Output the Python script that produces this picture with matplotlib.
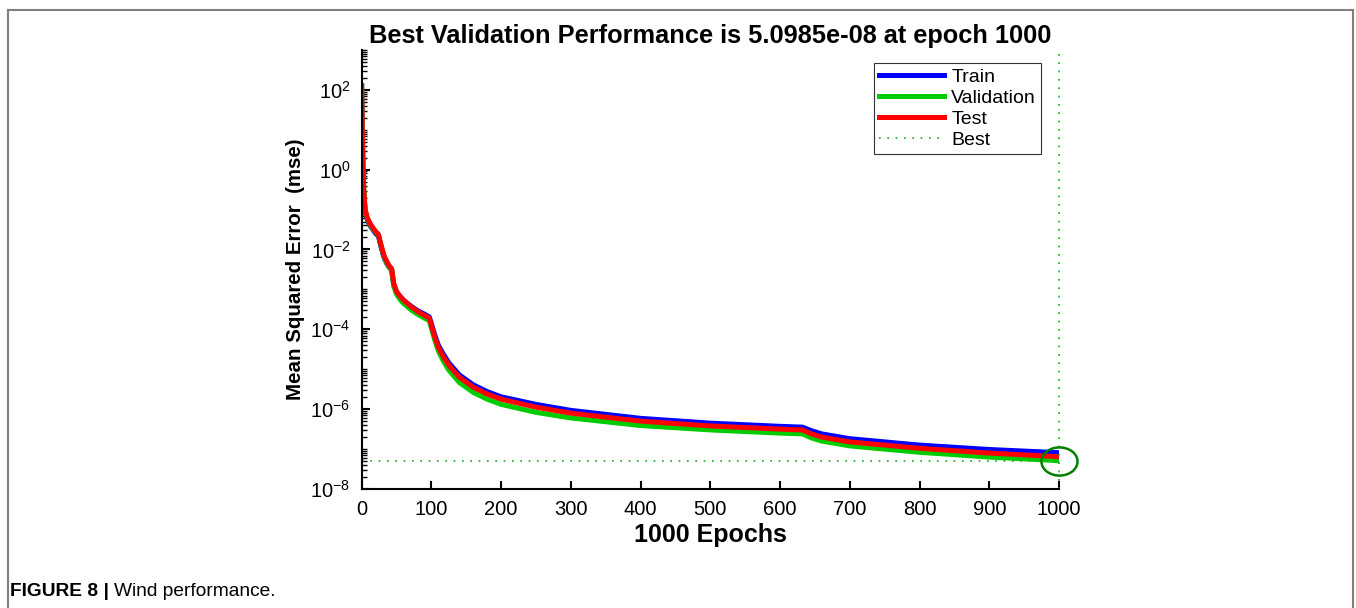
import numpy as np
import matplotlib
matplotlib.use("Agg")
import matplotlib.pyplot as plt
from matplotlib.lines import Line2D
from matplotlib.markers import MarkerStyle
from matplotlib.transforms import Affine2D
from matplotlib.ticker import LogLocator, NullFormatter, FixedLocator

plt.rcParams['font.family'] = ['Liberation Sans', 'DejaVu Sans']
plt.rcParams['mathtext.fontset'] = 'custom'
plt.rcParams['mathtext.rm'] = 'Liberation Sans'

epochs = [0, 1, 2, 3, 5, 8, 12, 16, 20, 24, 28, 32, 36, 40, 43, 46, 50, 55, 60, 70,
          80, 90, 97, 100, 105, 110, 117, 125, 140, 160, 180, 200, 250, 300, 400,
          500, 600, 632, 645, 660, 700, 800, 900, 1000]
test_log = [2.1, 1.0, 0.0, -0.5, -1.0, -1.2, -1.35, -1.45, -1.55, -1.62, -1.9, -2.15,
            -2.3, -2.42, -2.48, -2.85, -3.05, -3.17, -3.27, -3.42, -3.55, -3.65, -3.72,
            -3.9, -4.2, -4.45, -4.68, -4.9, -5.2, -5.45, -5.62, -5.75, -5.95, -6.1,
            -6.3, -6.42, -6.5, -6.52, -6.62, -6.7, -6.82, -6.98, -7.1, -7.19]
train_log = [2.1, 0.9, -0.1, -0.6, -1.05, -1.25, -1.4, -1.5, -1.6, -1.66, -1.95, -2.2,
             -2.35, -2.46, -2.5, -2.88, -3.07, -3.18, -3.27, -3.41, -3.53, -3.62, -3.69,
             -3.86, -4.15, -4.4, -4.62, -4.84, -5.14, -5.39, -5.56, -5.69, -5.88, -6.03,
             -6.23, -6.35, -6.43, -6.45, -6.54, -6.62, -6.74, -6.9, -7.01, -7.09]
val_log = [2.1, 1.0, 0.0, -0.5, -1.0, -1.22, -1.37, -1.48, -1.57, -1.63, -1.92, -2.18,
           -2.34, -2.46, -2.52, -2.92, -3.12, -3.25, -3.35, -3.5, -3.62, -3.72, -3.78,
           -3.97, -4.28, -4.54, -4.79, -5.02, -5.33, -5.58, -5.75, -5.88, -6.08, -6.22,
           -6.41, -6.52, -6.6, -6.62, -6.72, -6.8, -6.92, -7.08, -7.2, -7.29]

best_epoch = 1000
best_perf = 5.0985e-08

ep = np.array(epochs)
train = 10.0 ** np.array(train_log)
val = 10.0 ** np.array(val_log)
test = 10.0 ** np.array(test_log)

fig = plt.figure(figsize=(13.56, 6.08), dpi=100)
ax = fig.add_axes([0.2667, 0.1957, 0.5143, 0.7223])

lw = 3.6
ax.plot(ep, train, color=(0, 0, 1), lw=lw, label='Train')
ax.plot(ep, val, color=(0, 0.8, 0), lw=lw, label='Validation')
ax.plot(ep, test, color=(1, 0, 0), lw=lw, label='Test')
best_c = (0.1, 0.65, 0.1)
ax.axhline(best_perf, color=best_c, lw=1.2, ls=(0, (1, 4)), label='Best')
ax.axvline(best_epoch, color=best_c, lw=1.2, ls=(0, (1, 4)), clip_on=False)
ell = MarkerStyle('o', transform=Affine2D().scale(1.0, 0.78))
ax.plot([best_epoch], [best_perf], marker=ell, ms=26, mfc='none',
        mec=(0, 0.5, 0), mew=1.8, ls='none', clip_on=False)

ax.set_yscale('log')
ax.set_xlim(0, 1000)
ax.set_ylim(1e-8, 1e3)
ax.set_xticks(np.arange(0, 1001, 100))
ax.yaxis.set_major_locator(FixedLocator([1e-8, 1e-6, 1e-4, 1e-2, 1e0, 1e2]))
ax.yaxis.set_minor_locator(LogLocator(base=10, subs=np.arange(1, 10), numticks=50))
ax.yaxis.set_minor_formatter(NullFormatter())

for s in ['top', 'right']:
    ax.spines[s].set_visible(False)
for s in ['left', 'bottom']:
    ax.spines[s].set_linewidth(1.5)
ax.tick_params(direction='in', which='major', length=6, width=1.5, labelsize=14.5, pad=8)
ax.tick_params(direction='in', which='minor', length=3.5, width=1.0)

ax.set_title('Best Validation Performance is 5.0985e-08 at epoch 1000',
             fontsize=18.3, fontweight='bold', pad=5)
ax.set_xlabel('1000 Epochs', fontsize=18, fontweight='bold', labelpad=3)
ax.set_ylabel('Mean Squared Error  (mse)', fontsize=14.8, fontweight='bold', labelpad=4)

leg = ax.legend(loc='upper right', bbox_to_anchor=(0.974, 0.970), borderaxespad=0,
                fontsize=14, handlelength=3.3, fancybox=False, edgecolor='#333333',
                framealpha=1, borderpad=0.25, labelspacing=0.18, handletextpad=0.4)
leg.get_frame().set_linewidth(0.8)

# outer frame and caption
fc = '#808080'
fig.add_artist(Line2D([8 / 1356, 8 / 1356], [0, 1 - 10 / 608], color=fc, lw=1.5))
fig.add_artist(Line2D([8 / 1356, 1353 / 1356], [1 - 10 / 608, 1 - 10 / 608], color=fc, lw=1.5))
fig.add_artist(Line2D([1353 / 1356, 1353 / 1356], [0, 1 - 10 / 608], color=fc, lw=1.5))
cap = fig.text(10 / 1356, 1 - 592 / 608, 'FIGURE 8 | ', fontsize=13.8, fontweight='bold',
               va='center')
ax.annotate('Wind performance.', xy=(1, 0.5), xycoords=cap, va='center',
            fontsize=13.8, annotation_clip=False)

fig.savefig('out.png', dpi=100)
